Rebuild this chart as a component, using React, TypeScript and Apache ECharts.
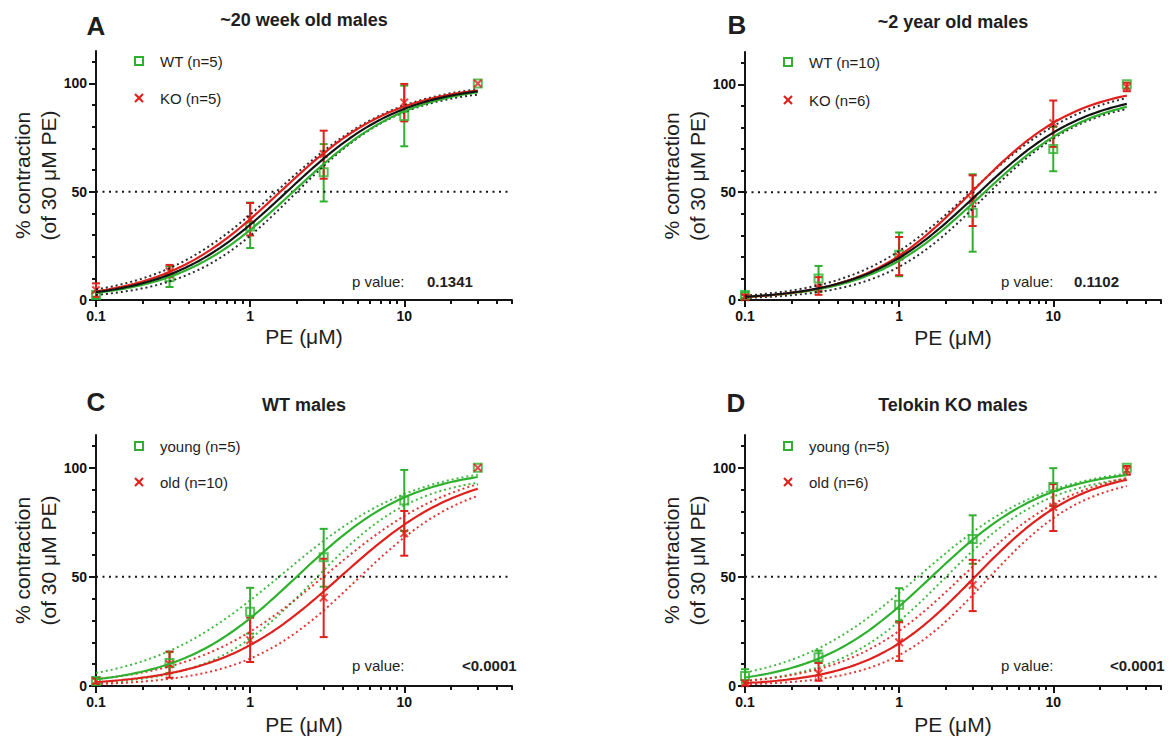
import { useEffect, useRef } from 'react';
import * as echarts from 'echarts';

// ---------- data ----------
const concentrations = [0.1, 0.3, 1, 3, 10, 30];

// young WT (panel A "WT", panel C "young")
const youngWTMean = [2.3, 10.5, 34, 59, 85, 100];
const youngWTLow = [0.8, 6, 24, 45.5, 71, 100];
const youngWTHigh = [3.8, 15.5, 45, 72, 99, 100];

// young KO (panel A "KO", panel D "young")
const youngKOMean = [4.6, 13.2, 37.2, 67.4, 91.2, 100];
const youngKOLow = [1.5, 10.5, 29.8, 56, 82.5, 100];
const youngKOHigh = [7.7, 16.2, 44.8, 78.2, 99.8, 100];

// old WT (panel B "WT", panel C "old")
const oldWTMean = [2.3, 10, 21, 40.5, 70, 100];
const oldWTLow = [1, 3.8, 11, 22.4, 59.7, 100];
const oldWTHigh = [3.5, 15.8, 31.3, 58.3, 80.2, 100];

// old KO (panel B "KO", panel D "old")
const oldKOMean = [1.3, 5.7, 20, 46.3, 82, 98.8];
const oldKOLow = [0.3, 2.4, 11.5, 34.3, 71, 96.8];
const oldKOHigh = [2.5, 10.6, 29.2, 57.8, 92.5, 100.8];

// fitted dose-response curves: [bottom, top, EC50 (µM), Hill slope]
const fitA_WT = [0, 100, 1.9, 1.15];
const fitA_KO = [0, 100, 1.57, 1.15];
const fitA_global = [0, 100, 1.73, 1.15];
const fitA_ciUpper = [0, 101, 1.5, 1.1];
const fitA_ciLower = [0, 98, 1.95, 1.25];

const fitB_WT = [0, 96, 3.35, 1.2];
const fitB_KO = [0, 100, 2.95, 1.25];
const fitB_global = [0, 97, 3.15, 1.2];
const fitB_ciUpper = [0, 100, 2.9, 1.15];
const fitB_ciLower = [0, 94, 3.5, 1.3];

const fitC_young = [0, 100, 2.0, 1.15];
const fitC_youngUpper = [0, 102, 1.6, 1.0];
const fitC_youngLower = [0, 97, 2.6, 1.3];
const fitC_old = [0, 100, 3.84, 1.09];
const fitC_oldUpper = [0, 102, 3.1, 1.0];
const fitC_oldLower = [0, 97, 4.9, 1.2];

const fitD_young = [0, 100, 1.62, 1.15];
const fitD_youngUpper = [0, 101, 1.35, 1.05];
const fitD_youngLower = [0, 98, 1.95, 1.25];
const fitD_old = [0, 100, 3.1, 1.25];
const fitD_oldUpper = [0, 101, 2.6, 1.15];
const fitD_oldLower = [0, 97, 3.7, 1.35];

// axes
const xTickValues = [0.1, 1, 10];
const xTickLabels = ['0.1', '1', '10'];
const xMinorTicks = [0.2, 0.3, 0.4, 0.5, 0.6, 0.7, 0.8, 0.9, 2, 3, 4, 5, 6, 7, 8, 9, 20, 30, 40, 50];
const xRange = [0.1, 50];
const yTickValues = [0, 50, 100];
const yMinorTicks = [10, 20, 30, 40, 60, 70, 80, 90, 110];
const yRange = [0, 115];
const halfMax = 50;
const pValues = ['0.1341', '0.1102', '<0.0001', '<0.0001'];

// ---------- styling ----------
const GREEN = '#2fb12f';
const RED = '#e0201c';
const BLACK = '#141414';
const TEXT = '#1e1e1e';
const FONT = '"Liberation Sans", Arial, Helvetica, sans-serif';
const LOG = Math.log10;
const X_SYMBOL = 'path://M0,1.6L1.6,0L5,3.4L8.4,0L10,1.6L6.6,5L10,8.4L8.4,10L5,6.6L1.6,10L0,8.4L3.4,5Z';

function hill(p: number[], x: number) {
  const [b, t, ec, h] = p;
  return b + (t - b) / (1 + Math.pow(ec / x, h));
}

function curve(p: number[]) {
  const pts: number[][] = [];
  const a = LOG(concentrations[0]);
  const z = LOG(concentrations[concentrations.length - 1]);
  const n = 120;
  for (let i = 0; i <= n; i++) {
    const lx = a + ((z - a) * i) / n;
    pts.push([lx, hill(p, Math.pow(10, lx))]);
  }
  return pts;
}

type Group = { name: string; color: string; mean: number[]; low: number[]; high: number[]; kind: 'square' | 'x' };
type Curve = { p: number[]; color: string; dotted: boolean };
type Panel = {
  letter: string;
  title: string;
  letterPos: [number, number];
  titleY: number;
  grid: { left: number; right: number; top: number; bottom: number };
  legendY: [number, number];
  pY: number;
  pNumX: number;
  nameGap: number;
  groups: Group[];
  curves: Curve[];
};

const W = 1172;
const H = 738;

const panels: Panel[] = [
  {
    letter: 'A', title: '~20 week old males', letterPos: [96, 26], titleY: 20,
    grid: { left: 96, right: W - 512, top: 51, bottom: H - 300 },
    legendY: [61, 98], pY: 281, pNumX: 331, nameGap: 26,
    groups: [
      { name: 'WT (n=5)', color: GREEN, mean: youngWTMean, low: youngWTLow, high: youngWTHigh, kind: 'square' },
      { name: 'KO (n=5)', color: RED, mean: youngKOMean, low: youngKOLow, high: youngKOHigh, kind: 'x' },
    ],
    curves: [
      { p: fitA_ciUpper, color: BLACK, dotted: true },
      { p: fitA_ciLower, color: BLACK, dotted: true },
      { p: fitA_WT, color: GREEN, dotted: false },
      { p: fitA_KO, color: RED, dotted: false },
      { p: fitA_global, color: BLACK, dotted: false },
    ],
  },
  {
    letter: 'B', title: '~2 year old males', letterPos: [737, 25], titleY: 22,
    grid: { left: 745, right: W - 1161, top: 52, bottom: H - 300 },
    legendY: [62, 100], pY: 281, pNumX: 329, nameGap: 27,
    groups: [
      { name: 'WT (n=10)', color: GREEN, mean: oldWTMean, low: oldWTLow, high: oldWTHigh, kind: 'square' },
      { name: 'KO (n=6)', color: RED, mean: oldKOMean, low: oldKOLow, high: oldKOHigh, kind: 'x' },
    ],
    curves: [
      { p: fitB_ciUpper, color: BLACK, dotted: true },
      { p: fitB_ciLower, color: BLACK, dotted: true },
      { p: fitB_WT, color: GREEN, dotted: false },
      { p: fitB_KO, color: RED, dotted: false },
      { p: fitB_global, color: BLACK, dotted: false },
    ],
  },
  {
    letter: 'C', title: 'WT males', letterPos: [96, 402], titleY: 405,
    grid: { left: 96, right: W - 512, top: 435, bottom: H - 686 },
    legendY: [446, 482], pY: 665, pNumX: 366, nameGap: 28,
    groups: [
      { name: 'young (n=5)', color: GREEN, mean: youngWTMean, low: youngWTLow, high: youngWTHigh, kind: 'square' },
      { name: 'old (n=10)', color: RED, mean: oldWTMean, low: oldWTLow, high: oldWTHigh, kind: 'x' },
    ],
    curves: [
      { p: fitC_youngUpper, color: GREEN, dotted: true },
      { p: fitC_youngLower, color: GREEN, dotted: true },
      { p: fitC_oldUpper, color: RED, dotted: true },
      { p: fitC_oldLower, color: RED, dotted: true },
      { p: fitC_young, color: GREEN, dotted: false },
      { p: fitC_old, color: RED, dotted: false },
    ],
  },
  {
    letter: 'D', title: 'Telokin KO males', letterPos: [736, 403], titleY: 405,
    grid: { left: 745, right: W - 1161, top: 435, bottom: H - 686 },
    legendY: [446, 482], pY: 665, pNumX: 365, nameGap: 28,
    groups: [
      { name: 'young (n=5)', color: GREEN, mean: youngKOMean, low: youngKOLow, high: youngKOHigh, kind: 'square' },
      { name: 'old (n=6)', color: RED, mean: oldKOMean, low: oldKOLow, high: oldKOHigh, kind: 'x' },
    ],
    curves: [
      { p: fitD_youngUpper, color: GREEN, dotted: true },
      { p: fitD_youngLower, color: GREEN, dotted: true },
      { p: fitD_oldUpper, color: RED, dotted: true },
      { p: fitD_oldLower, color: RED, dotted: true },
      { p: fitD_young, color: GREEN, dotted: false },
      { p: fitD_old, color: RED, dotted: false },
    ],
  },
];

function xLabel(v: number) {
  for (let i = 0; i < xTickValues.length; i++) {
    if (Math.abs(LOG(xTickValues[i]) - v) < 1e-6) return xTickLabels[i];
  }
  return '';
}
function yLabel(v: number) {
  return yTickValues.indexOf(v) >= 0 ? String(v) : '';
}

function buildOption() {
  const grid: any[] = [];
  const xAxis: any[] = [];
  const yAxis: any[] = [];
  const series: any[] = [];
  const graphic: any[] = [];

  panels.forEach((pn, i) => {
    grid.push({ ...pn.grid, containLabel: false });
    const xMain = xAxis.length;
    xAxis.push({
      type: 'value', gridIndex: i, position: 'bottom', min: LOG(xRange[0]), max: LOG(xRange[1]), interval: 1,
      axisLine: { show: true, onZero: false, lineStyle: { color: BLACK, width: 2 } },
      axisTick: { show: true, length: 7, lineStyle: { color: BLACK, width: 2 }, customValues: xTickValues.map(LOG) },
      axisLabel: {
        customValues: xTickValues.map(LOG), formatter: xLabel, margin: 9,
        fontFamily: FONT, fontWeight: 'bold', fontSize: 14, color: '#111',
      },
      splitLine: { show: false },
      name: 'PE (μM)', nameLocation: 'middle', nameGap: pn.nameGap,
      nameTextStyle: { fontFamily: FONT, fontSize: 21, color: TEXT },
    });
    xAxis.push({
      type: 'value', gridIndex: i, position: 'bottom', min: LOG(xRange[0]), max: LOG(xRange[1]), interval: 1,
      axisLine: { show: false, onZero: false },
      axisTick: { show: true, length: 4, lineStyle: { color: BLACK, width: 2 }, customValues: xMinorTicks.map(LOG) },
      axisLabel: { show: false },
      splitLine: { show: false },
    });
    const yMain = yAxis.length;
    yAxis.push({
      type: 'value', gridIndex: i, position: 'left', min: yRange[0], max: yRange[1], interval: 50,
      axisLine: { show: true, onZero: false, lineStyle: { color: BLACK, width: 2 } },
      axisTick: { show: true, length: 7, lineStyle: { color: BLACK, width: 2 }, customValues: yTickValues },
      axisLabel: {
        customValues: yTickValues, formatter: yLabel, margin: 9,
        fontFamily: FONT, fontWeight: 'bold', fontSize: 14, color: '#111',
      },
      splitLine: { show: false },
    });
    yAxis.push({
      type: 'value', gridIndex: i, position: 'left', min: yRange[0], max: yRange[1], interval: 50,
      axisLine: { show: false, onZero: false },
      axisTick: { show: true, length: 4, lineStyle: { color: BLACK, width: 2 }, customValues: yMinorTicks },
      axisLabel: { show: false },
      splitLine: { show: false },
    });

    const ax = { xAxisIndex: xMain, yAxisIndex: yMain };

    // 50 % reference line
    series.push({
      type: 'line', ...ax, silent: true, symbol: 'none',
      data: [[LOG(xRange[0]), halfMax], [LOG(xRange[1]), halfMax]],
      lineStyle: { color: BLACK, width: 2, type: [2, 4.5] },
    });

    // fitted curves
    pn.curves.forEach((c) => {
      series.push({
        type: 'line', ...ax, silent: true, symbol: 'none', showSymbol: false,
        data: curve(c.p),
        lineStyle: c.dotted
          ? { color: c.color, width: 2, type: [2, 3], opacity: 0.9 }
          : { color: c.color, width: 2.2 },
      });
    });

    // error bars + points
    pn.groups.forEach((g) => {
      const rows = concentrations
        .map((c, k) => [LOG(c), g.low[k], g.high[k]])
        .filter((r) => r[2] - r[1] > 0.5);
      series.push({
        type: 'custom', ...ax, silent: true,
        encode: { x: 0, y: [1, 2] },
        data: rows,
        renderItem: (_p: any, api: any) => {
          const x = api.value(0);
          const a = api.coord([x, api.value(1)]);
          const b = api.coord([x, api.value(2)]);
          const w = 4;
          const style = { stroke: g.color, lineWidth: 2 };
          return {
            type: 'group',
            children: [
              { type: 'line', shape: { x1: a[0], y1: a[1], x2: b[0], y2: b[1] }, style },
              { type: 'line', shape: { x1: a[0] - w, y1: a[1], x2: a[0] + w, y2: a[1] }, style },
              { type: 'line', shape: { x1: b[0] - w, y1: b[1], x2: b[0] + w, y2: b[1] }, style },
            ],
          };
        },
      });
    });
    pn.groups.forEach((g) => {
      series.push({
        type: 'scatter', ...ax, name: g.name,
        data: concentrations.map((c, k) => [LOG(c), g.mean[k]]),
        symbol: g.kind === 'square' ? 'rect' : X_SYMBOL,
        symbolSize: g.kind === 'square' ? 8 : 9,
        itemStyle: g.kind === 'square'
          ? { color: 'rgba(255,255,255,0)', borderColor: g.color, borderWidth: 2 }
          : { color: g.color },
      });
    });

    // texts
    const axisX = pn.grid.left;
    const plotRight = W - pn.grid.right;
    const plotTop = pn.grid.top;
    const plotBottom = H - pn.grid.bottom;
    const txt = (text: string, x: number, y: number, size: number, weight: string, align: string, extra: any = {}) => ({
      type: 'text', x, y, silent: true, ...extra,
      style: {
        text, fill: TEXT, fontFamily: FONT, fontSize: size, fontWeight: weight,
        textAlign: align, textVerticalAlign: 'middle', align, verticalAlign: 'middle', ...(extra.styleExtra || {}),
      },
    });
    graphic.push(txt(pn.letter, pn.letterPos[0], pn.letterPos[1], 26, 'bold', 'center', { style: undefined }));
    graphic.push(txt(pn.title, (axisX + plotRight) / 2, pn.titleY, 18, 'bold', 'center'));
    graphic.push({
      type: 'text', x: axisX - 61, y: (plotTop + plotBottom) / 2, rotation: Math.PI / 2, silent: true,
      style: {
        text: '% contraction\n(of 30 μM PE)', fill: TEXT, fontFamily: FONT, fontSize: 21, lineHeight: 26,
        textAlign: 'center', textVerticalAlign: 'middle', align: 'center', verticalAlign: 'middle',
      },
    });
    // legend
    const mx = axisX + 43;
    const tx = axisX + 64;
    const [ly1, ly2] = pn.legendY;
    graphic.push({
      type: 'rect', silent: true, shape: { x: mx - 4, y: ly1 - 4, width: 8, height: 8 },
      style: { fill: 'none', stroke: pn.groups[0].color, lineWidth: 2 },
    });
    graphic.push({
      type: 'line', silent: true, shape: { x1: mx - 4, y1: ly2 - 4, x2: mx + 4, y2: ly2 + 4 },
      style: { stroke: pn.groups[1].color, lineWidth: 2.2 },
    });
    graphic.push({
      type: 'line', silent: true, shape: { x1: mx + 4, y1: ly2 - 4, x2: mx - 4, y2: ly2 + 4 },
      style: { stroke: pn.groups[1].color, lineWidth: 2.2 },
    });
    graphic.push(txt(pn.groups[0].name, tx, ly1, 15, 'normal', 'left'));
    graphic.push(txt(pn.groups[1].name, tx, ly2, 15, 'normal', 'left'));
    // p value
    graphic.push(txt('p value:', axisX + 256, pn.pY, 15, 'normal', 'left'));
    graphic.push(txt(pValues[i], axisX + pn.pNumX, pn.pY, 15, 'bold', 'left'));
  });

  return {
    animation: false,
    backgroundColor: '#ffffff',
    textStyle: { fontFamily: FONT },
    grid, xAxis, yAxis, series, graphic,
  };
}

export default function App() {
  const ref = useRef<HTMLDivElement>(null);
  useEffect(() => {
    if (!ref.current) return;
    const chart = echarts.init(ref.current, undefined, { renderer: 'svg' });
    chart.setOption(buildOption() as any);
    return () => chart.dispose();
  }, []);
  return (
    <div
      ref={ref}
      style={{ position: 'fixed', left: 0, top: 0, width: W, height: H, background: '#fff' }}
    />
  );
}
